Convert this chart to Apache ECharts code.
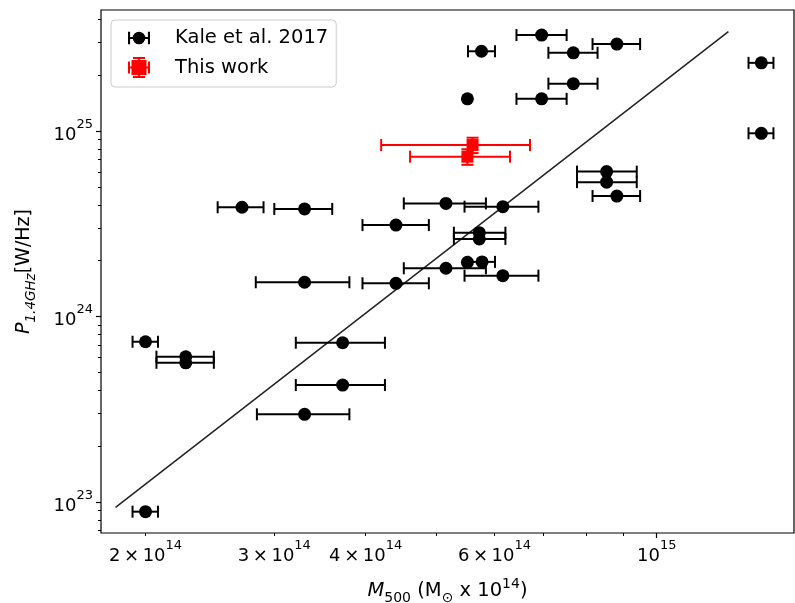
<!DOCTYPE html>
<html>
<head>
<meta charset="utf-8">
<script src="https://cdn.jsdelivr.net/npm/echarts@6/dist/echarts.min.js"></script>
<style>
html,body{margin:0;padding:0;background:#fff;}
#chart{width:795px;height:603px;}
</style>
</head>
<body>
<div id="chart"></div>
<script>
// ---- Data (mass in units of 1e14 Msun, power in W/Hz) ----
const kaleMass = [2.00, 2.00, 2.27, 2.27, 2.71, 3.30, 3.30, 3.30, 3.72, 3.72, 4.40, 4.40, 5.15, 5.15, 5.51, 5.51,
                  5.72, 5.72, 5.76, 5.77, 6.16, 6.16, 6.96, 6.96, 7.69, 7.69, 8.54, 8.54, 8.82, 8.82, 13.9, 13.9];
const kaleMassErrLo = [0.08, 0.08, 0.20, 0.20, 0.20, 0.30, 0.47, 0.46, 0.51, 0.51, 0.44, 0.44, 0.64, 0.64, 0, 0,
                  0.44, 0.44, 0.24, 0.24, 0.70, 0.70, 0.53, 0.53, 0.58, 0.58, 0.76, 0.76, 0.65, 0.65, 0.55, 0.55];
const kaleMassErrHi = [0.08, 0.08, 0.21, 0.21, 0.19, 0.30, 0.50, 0.50, 0.53, 0.53, 0.48, 0.48, 0.69, 0.69, 0, 0,
                  0.49, 0.49, 0.25, 0.24, 0.73, 0.73, 0.57, 0.57, 0.61, 0.61, 0.85, 0.85, 0.67, 0.67, 0.54, 0.54];
const kalePower = [8.87e22, 7.31e23, 6.07e23, 5.63e23, 3.88e24, 3.80e24, 1.53e24, 2.97e23, 7.22e23, 4.27e23,
                   3.11e24, 1.51e24, 4.07e24, 1.82e24, 1.49e25, 1.96e24, 2.62e24, 2.83e24, 2.69e25, 1.97e24,
                   3.91e24, 1.66e24, 3.29e25, 1.49e25, 2.64e25, 1.80e25, 6.04e24, 5.30e24, 2.94e25, 4.46e24,
                   2.33e25, 9.72e24];

const thisMass = [5.60, 5.51];
const thisMassErrLo = [1.40, 0.91];
const thisMassErrHi = [1.11, 0.79];
const thisPower = [8.40e24, 7.27e24];
const thisPowerErr = [0.80e24, 0.70e24];

// fitted relation (end points)
const fitMass = [1.82, 12.53];
const fitPower = [9.36e22, 3.43e25];

// ---- Axis ranges and ticks ----
const massMin = 1.7385e14, massMax = 1.5405e15;
const powerMin = 6.807e22, powerMax = 4.490e25;
const massMajorTicks = [1e15];
const massMinorTicks = [2e14, 3e14, 4e14, 5e14, 6e14, 7e14, 8e14, 9e14];
const massMinorLabels = [2e14, 3e14, 4e14, 6e14];
const powerMajorTicks = [1e23, 1e24, 1e25];
const powerMinorTicks = [7e22, 8e22, 9e22, 2e23, 3e23, 4e23, 5e23, 6e23, 7e23, 8e23, 9e23,
                         2e24, 3e24, 4e24, 5e24, 6e24, 7e24, 8e24, 9e24, 2e25, 3e25, 4e25];

const L = Math.log10;
const FONT = 'DejaVu Sans';

function sciLabel(v) {
  const e = Math.floor(v + 1e-9);
  const m = Math.round(Math.pow(10, v - e));
  return m === 1 ? '{n|10}{e|' + e + '}' : '{n|' + m + '\u2009\u00d7\u200910}{e|' + e + '}';
}
const labelRich = {
  n: {fontFamily: FONT, fontSize: 18, color: '#000', lineHeight: 26, verticalAlign: 'bottom'},
  e: {fontFamily: FONT, fontSize: 13, color: '#000', lineHeight: 26, verticalAlign: 'top'}
};

const kaleRows = kaleMass.map((m, i) => [
  L(m * 1e14), L(kalePower[i]),
  L((m - kaleMassErrLo[i]) * 1e14), L((m + kaleMassErrHi[i]) * 1e14),
  L(kalePower[i]), L(kalePower[i])
]);
const thisRows = thisMass.map((m, i) => [
  L(m * 1e14), L(thisPower[i]),
  L((m - thisMassErrLo[i]) * 1e14), L((m + thisMassErrHi[i]) * 1e14),
  L(thisPower[i] - thisPowerErr[i]), L(thisPower[i] + thisPowerErr[i])
]);

function errRender(color, withY) {
  return function (params, api) {
    const x = api.value(0), y = api.value(1);
    const c = api.coord([x, y]);
    const a = api.coord([api.value(2), y]);
    const b = api.coord([api.value(3), y]);
    const st = {stroke: color, lineWidth: 2};
    const cap = 6;
    const ch = [];
    if (b[0] - a[0] > 0.5) {
      ch.push({type: 'line', shape: {x1: a[0], y1: c[1], x2: b[0], y2: c[1]}, style: st});
      ch.push({type: 'line', shape: {x1: a[0], y1: c[1] - cap, x2: a[0], y2: c[1] + cap}, style: st});
      ch.push({type: 'line', shape: {x1: b[0], y1: c[1] - cap, x2: b[0], y2: c[1] + cap}, style: st});
    }
    if (withY) {
      const d = api.coord([x, api.value(4)]);
      const u = api.coord([x, api.value(5)]);
      ch.push({type: 'line', shape: {x1: c[0], y1: d[1], x2: c[0], y2: u[1]}, style: st});
      ch.push({type: 'line', shape: {x1: c[0] - cap, y1: d[1], x2: c[0] + cap, y2: d[1]}, style: st});
      ch.push({type: 'line', shape: {x1: c[0] - cap, y1: u[1], x2: c[0] + cap, y2: u[1]}, style: st});
    }
    return {type: 'group', children: ch};
  };
}

const kaleIcon = 'path://M0,0h2v12h-2zM19,0h2v12h-2zM0,5h5v2h-5zM16,5h5v2h-5zM4.5,6a6,6 0 1,1 12,0a6,6 0 1,1 -12,0z';
const redIcon = 'path://M3.5,3h15v15h-15zM0,9.5h22v2h-22zM0,4.5h2v12h-2zM20,4.5h2v12h-2zM10,0h2v21h-2zM5,0h12v2h-12zM5,19h12v2h-12z';

const chart = echarts.init(document.getElementById('chart'), null, {renderer: 'canvas'});
const option = {
  animation: false,
  backgroundColor: '#fff',
  grid: {left: 101, right: 1, top: 10, bottom: 70, show: true, borderColor: '#000', borderWidth: 1.2,
         backgroundColor: 'transparent', containLabel: false, outerBoundsMode: 'none'},
  legend: {
    left: 111, top: 20, orient: 'vertical',
    padding: [8, 8, 9, 17],
    itemGap: 9,
    itemWidth: 22, itemHeight: 21,
    borderColor: '#cccccc', borderWidth: 1, borderRadius: 4,
    backgroundColor: 'rgba(255,255,255,0.8)',
    textStyle: {fontFamily: FONT, fontSize: 19.5, color: '#000', padding: [0, 0, 0, 20]},
    data: [
      {name: 'Kale et al. 2017', icon: kaleIcon, itemStyle: {color: '#000'}},
      {name: 'This work', icon: redIcon, itemStyle: {color: '#ff0000'}}
    ]
  },
  xAxis: [
    {
      type: 'value', min: L(massMin), max: L(massMax), position: 'bottom',
      splitLine: {show: false}, axisLine: {show: false},
      axisTick: {show: true, customValues: massMajorTicks.map(L), length: 5, lineStyle: {color: '#000', width: 1.2}},
      axisLabel: {show: true, customValues: massMajorTicks.map(L), formatter: sciLabel, rich: labelRich, margin: 6},
      name: '{i|M}{s|500}{n| (M}{s|\u2299}{n| x 10}{e|14}{n|)}',
      nameLocation: 'middle', nameGap: 44,
      nameTextStyle: {
        rich: {
          i: {fontFamily: FONT, fontSize: 19.5, fontStyle: 'italic', color: '#000', lineHeight: 28, verticalAlign: 'middle'},
          n: {fontFamily: FONT, fontSize: 19.5, color: '#000', lineHeight: 28, verticalAlign: 'middle'},
          s: {fontFamily: FONT, fontSize: 14, color: '#000', lineHeight: 28, verticalAlign: 'bottom'},
          e: {fontFamily: FONT, fontSize: 14, color: '#000', lineHeight: 28, verticalAlign: 'top'}
        }
      }
    },
    {
      type: 'value', min: L(massMin), max: L(massMax), position: 'bottom',
      splitLine: {show: false}, axisLine: {show: false},
      axisTick: {show: true, customValues: massMinorTicks.map(L), length: 3, lineStyle: {color: '#000', width: 1}},
      axisLabel: {show: true, customValues: massMinorLabels.map(L), formatter: sciLabel, rich: labelRich, margin: 6}
    }
  ],
  yAxis: [
    {
      type: 'value', min: L(powerMin), max: L(powerMax), position: 'left',
      splitLine: {show: false}, axisLine: {show: false},
      axisTick: {show: true, customValues: powerMajorTicks.map(L), length: 5, lineStyle: {color: '#000', width: 1.2}},
      axisLabel: {show: true, customValues: powerMajorTicks.map(L), formatter: sciLabel, rich: labelRich, margin: 8},
      name: '{i|P}{s|1.4GHz}{n|[W/Hz]}',
      nameLocation: 'middle', nameGap: 63, nameRotate: 90,
      nameTextStyle: {
        rich: {
          i: {fontFamily: FONT, fontSize: 19, fontStyle: 'italic', color: '#000', lineHeight: 27, verticalAlign: 'middle'},
          n: {fontFamily: FONT, fontSize: 19, color: '#000', lineHeight: 27, verticalAlign: 'middle'},
          s: {fontFamily: FONT, fontSize: 13.5, fontStyle: 'italic', color: '#000', lineHeight: 27, verticalAlign: 'bottom'}
        }
      }
    },
    {
      type: 'value', min: L(powerMin), max: L(powerMax), position: 'left',
      splitLine: {show: false}, axisLine: {show: false},
      axisTick: {show: true, customValues: powerMinorTicks.map(L), length: 3, lineStyle: {color: '#000', width: 1}},
      axisLabel: {show: false}
    }
  ],
  series: [
    {
      type: 'line', name: 'fit', data: fitMass.map((m, i) => [L(m * 1e14), L(fitPower[i])]),
      showSymbol: false, symbol: 'none', lineStyle: {color: '#222', width: 1.5}, z: 1, silent: true
    },
    {
      type: 'custom', name: 'Kale et al. 2017', data: kaleRows, renderItem: errRender('#000', false),
      encode: {x: 0, y: 1}, z: 2, itemStyle: {color: '#000'}
    },
    {
      type: 'scatter', name: 'Kale et al. 2017', data: kaleRows.map(r => [r[0], r[1]]),
      symbol: 'circle', symbolSize: 13, itemStyle: {color: '#000', opacity: 1}, z: 3
    },
    {
      type: 'custom', name: 'This work', data: thisRows, renderItem: errRender('#ff0000', true),
      encode: {x: 0, y: 1}, z: 4, itemStyle: {color: '#ff0000'}
    },
    {
      type: 'scatter', name: 'This work', data: thisRows.map(r => [r[0], r[1]]),
      symbol: 'rect', symbolSize: 12, itemStyle: {color: '#ff0000', opacity: 1}, z: 5
    }
  ]
};
chart.setOption(option);
</script>
</body>
</html>
